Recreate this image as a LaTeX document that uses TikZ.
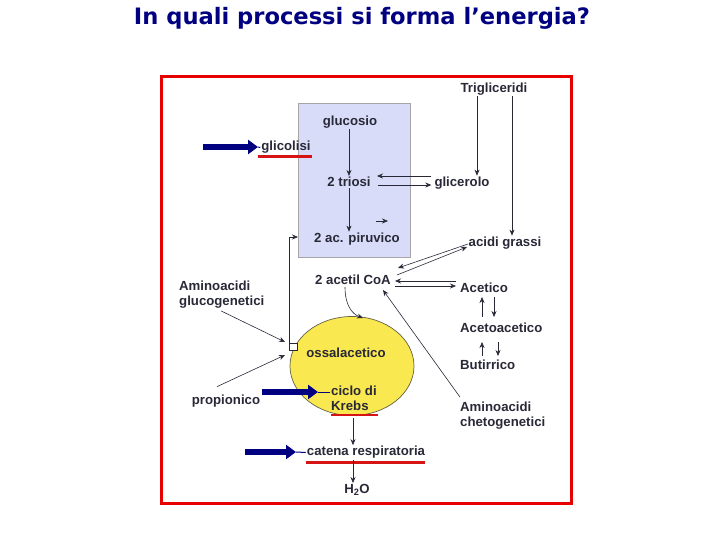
\documentclass[tikz,border=0pt]{standalone}
\usepackage{fontspec}
\setmainfont{Liberation Sans}
\newfontfamily\titlefont{DejaVu Sans}
\usetikzlibrary{arrows.meta,calc}
\definecolor{navy}{RGB}{0,0,128}
\definecolor{boxfill}{RGB}{216,220,248}
\definecolor{ylw}{RGB}{250,232,80}
\definecolor{txt}{RGB}{40,40,55}
\definecolor{framered}{RGB}{230,0,0}
\definecolor{ulred}{RGB}{215,20,20}
\begin{document}
\begin{tikzpicture}[x=1pt,y=-1pt,
  lbl/.style={font=\fontsize{13.2}{15}\selectfont\bfseries, text=txt, inner sep=1pt},
  lbll/.style={lbl, anchor=west, align=left},
  arr/.style={draw=txt, line width=0.6pt, -{Stealth[length=6pt,width=5pt]}},
  bigarr/.style={draw=navy, line width=6pt, -{Triangle[length=10pt,width=14pt]}},
  uline/.style={draw=ulred, line width=2.5pt}]
\useasboundingbox (0,0) rectangle (720,540);
% title
\node[font=\titlefont\bfseries\fontsize{22.6}{26}\selectfont, text=navy] (title) at (362,18) {In quali processi si forma l’energia?};
% frame
\draw[framered, line width=3pt] (161,77) rectangle (571,503);
% glycolysis box
\draw[fill=boxfill, draw=gray!70, line width=0.5pt] (298,103) rectangle (410,257);
% ellipse
\draw[fill=ylw, draw=black!70!yellow, line width=0.7pt] (352,366) ellipse (62pt and 49.5pt);
% nodes
\node[lbl] (glucosio) at (350,122) {glucosio};
\node[lbl] (triosi) at (349,182) {2 triosi};
\node[lbl] (piruvico) at (357,239) {2 ac. piruvico};
\node[lbl] (glicerolo) at (462,183) {glicerolo};
\node[lbl] (trig) at (494,89) {Trigliceridi};
\node[lbl] (acidi) at (505,243) {acidi grassi};
\node[lbl] (acetil) at (353,280) {2 acetil CoA};
\node[lbll] (acetico) at (459,288) {Acetico};
\node[lbll] (acetoac) at (459,328) {Acetoacetico};
\node[lbll] (butirrico) at (459,365) {Butirrico};
\node[lbll] (cheto) at (459,416) {Aminoacidi\\chetogenetici};
\node[lbl] (ossal) at (346,353) {ossalacetico};
\node[lbll] (krebs) at (330,398.5) {ciclo di\\Krebs};
\node[lbl] (catena) at (366,452.5) {catena respiratoria};
\node[lbl] (h2o) at (357,490) {H\textsubscript{2}O};
\node[lbl] (propionico) at (226,401) {propionico};
\node[lbll] (gluco) at (178,295) {Aminoacidi\\glucogenetici};
\node[lbl] (glicolisi) at (286,147.5) {glicolisi};
% underlines
\draw[uline] (258,156.5) -- (312,156.5);
\draw[uline] (331,415) -- (378,415);
\draw[uline] (306,462.5) -- (425,462.5);
% big arrows
\coordinate (g0) at (203,147);
\coordinate (k0) at (262,392);
\coordinate (c0) at (245,452);
\draw[bigarr] (g0) -- (258,147);
\draw[navy, line width=1pt] (258,147) -- (glicolisi.west);
\draw[bigarr] (k0) -- (318,392);
\draw[navy, line width=1pt] (318,392) -- (330,392);
\draw[bigarr] (c0) -- (296,452);
\draw[navy, line width=1pt] (296,452) -- (catena.west);
% thin arrows in box
\draw[arr] (glucosio.south -| 349,0) -- (triosi.north -| 349,0);
\draw[arr] (triosi.south -| 349,0) -- (piruvico.north -| 349,0);
\draw[arr] (376,221) -- (388,221);
% triglycerides
\draw[arr] (trig.south -| 477,0) -- (glicerolo.north -| 477,0);
\draw[arr] (trig.south -| 512,0) -- (acidi.north -| 512,0);
% glicerolo <-> triosi
\draw[arr] ($(glicerolo.west)+(-2,-7)$) -- (377,176);
\draw[arr] (378,185) -- ($(glicerolo.west)+(-2,2)$);
% acidi grassi <-> acetil
\coordinate (ag1) at (468,244);
\coordinate (ag2) at (467,247);
\coordinate (ac1) at (398,268);
\coordinate (ac2) at (397,275);
\draw[arr] (ag1) -- (ac1);
\draw[arr] (ac2) -- (ag2);
% acetico <-> acetil
\draw[arr] ($(acetico.west)+(-3,-7)$) -- ($(acetil.east)+(3,1)$);
\draw[arr] ($(acetil.east)+(3,6)$) -- ($(acetico.west)+(-3,-2)$);
% acetico - acetoacetico - butirrico
\draw[arr] (482,317) -- (482,297);
\draw[arr] (494,297) -- (494,317);
\draw[arr] (482,356) -- (482,342);
\draw[arr] (498,342) -- (498,356);
% chetogenetici -> acetil
\draw[arr] ($(cheto.north west)+(1,-4)$) -- ($(acetil.east)+(-9,10)$);
% acetil -> ossalacetico (curved)
\coordinate (oc) at (363,318);
\draw[arr] ($(acetil.south)+(-8,1)$) .. controls (345,305) and (352,314) .. (oc);
% small square and line to piruvico
\draw[txt, line width=0.5pt, fill=white] (289,343) rectangle (297,350);
\coordinate (sq) at (289,343);
\draw[arr] (sq) -- (289,237) -- (298,237);
% glucogenetici and propionico
\draw[arr] ($(gluco.south west)+(43,1)$) -- (285,342);
\draw[arr] ($(propionico.north)+(-9,-7)$) -- (285,355);
% krebs -> catena -> H2O
\draw[arr] (353,418) -- (catena.north -| 353,0);
\draw[arr] (catena.south -| 353,0) -- (h2o.north -| 353,0);
\end{tikzpicture}
\end{document}
